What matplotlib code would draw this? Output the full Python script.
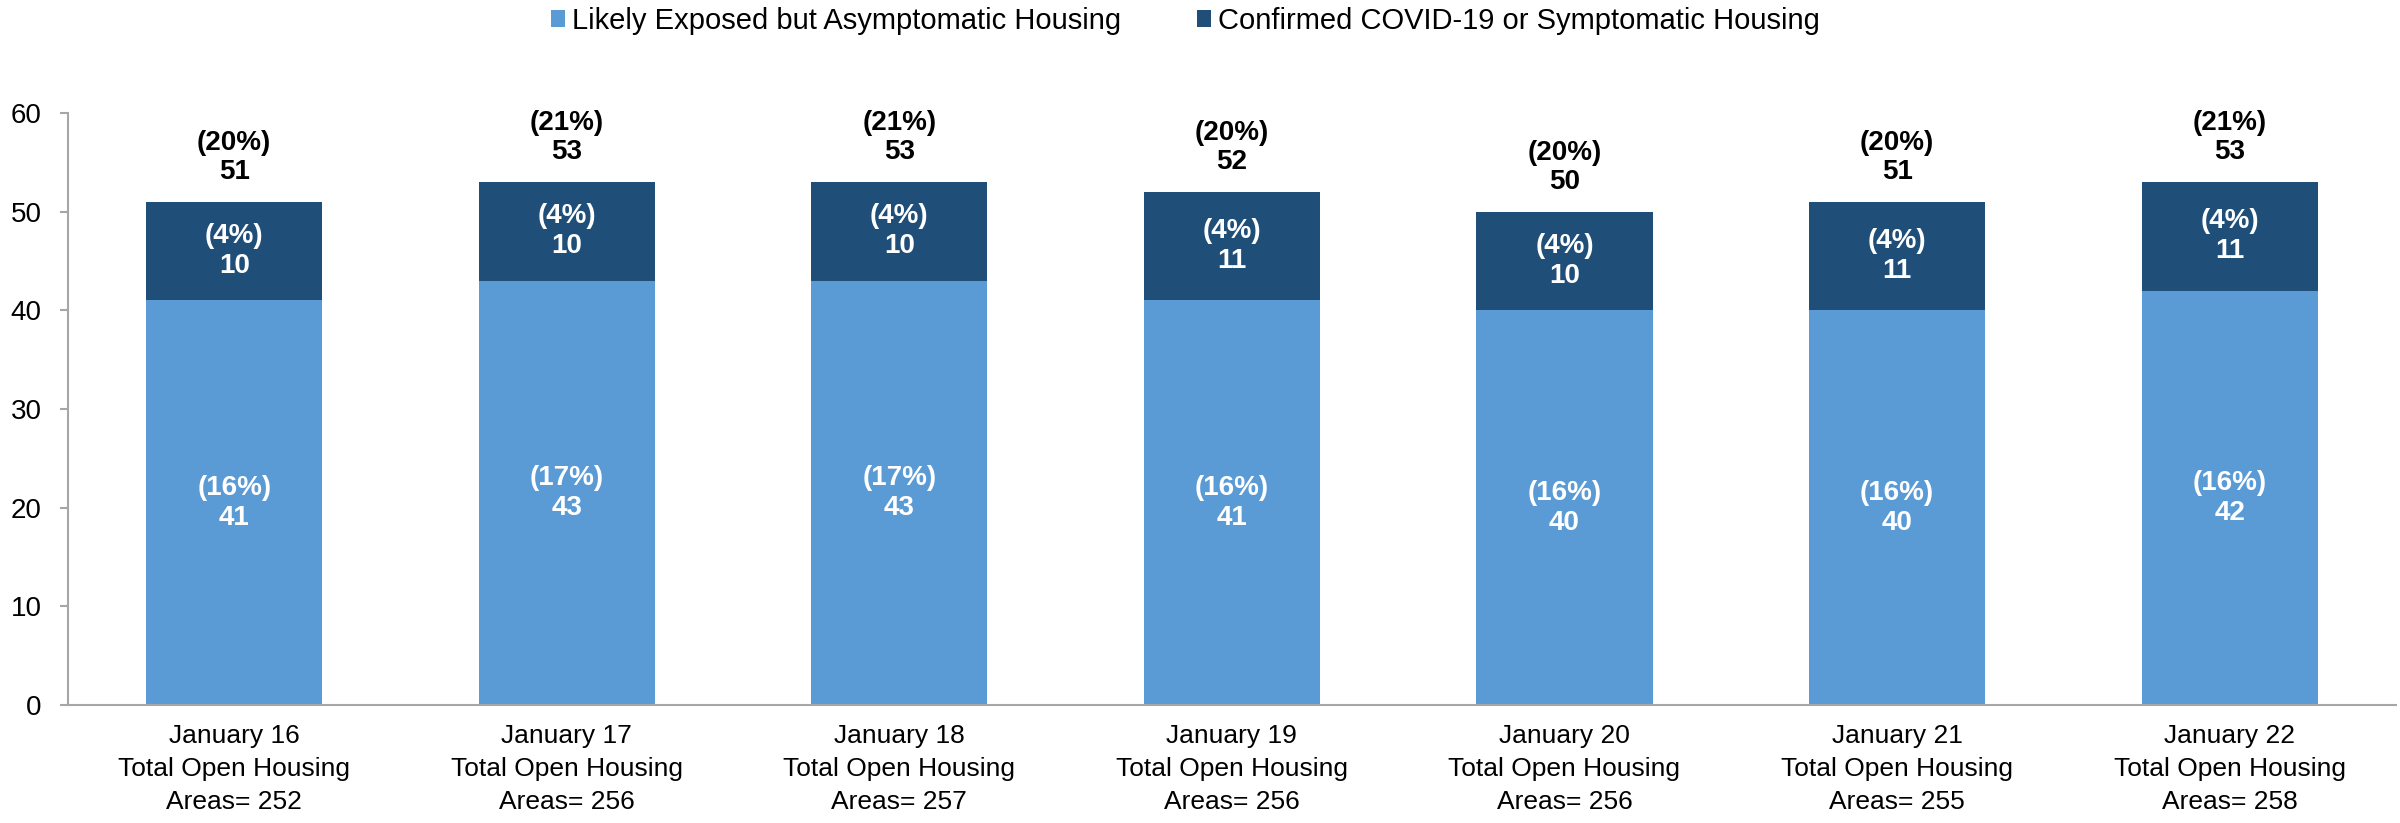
import matplotlib
matplotlib.use('Agg')
import matplotlib.pyplot as plt
from matplotlib.patches import Patch

plt.rcParams['font.family'] = ['Liberation Sans', 'DejaVu Sans']

LIGHT = '#5B9BD5'
DARK = '#1F4E79'
AXIS = '#A6A6A6'

dates = ['January 16', 'January 17', 'January 18', 'January 19',
         'January 20', 'January 21', 'January 22']
areas = [252, 256, 257, 256, 256, 255, 258]
exposed = [41, 43, 43, 41, 40, 40, 42]
exposed_pct = [16, 17, 17, 16, 16, 16, 16]
confirmed = [10, 10, 10, 11, 10, 11, 11]
confirmed_pct = [4, 4, 4, 4, 4, 4, 4]
totals = [51, 53, 53, 52, 50, 51, 53]
total_pct = [20, 21, 21, 20, 20, 20, 21]

labels = [f'{d}\nTotal Open Housing\nAreas= {a}' for d, a in zip(dates, areas)]
x = list(range(len(dates)))

fig = plt.figure(figsize=(24, 8.23), dpi=100)
ax = fig.add_axes([0.0283, 0.1434, 0.9700, 0.7193])

ax.bar(x, exposed, width=0.53, color=LIGHT, edgecolor='none')
ax.bar(x, confirmed, width=0.53, bottom=exposed, color=DARK, edgecolor='none')

for i in x:
    ax.text(i, exposed[i] / 2, f'({exposed_pct[i]}%)\n{exposed[i]}', ha='center', va='center',
            fontsize=20, fontweight='bold', color='white', linespacing=1.2)
    ax.text(i, exposed[i] + confirmed[i] / 2, f'({confirmed_pct[i]}%)\n{confirmed[i]}',
            ha='center', va='center', fontsize=20, fontweight='bold', color='white', linespacing=1.2)
    ax.text(i, totals[i] + 2.3, f'({total_pct[i]}%)\n{totals[i]}', ha='center', va='baseline',
            fontsize=20, fontweight='bold', color='black', linespacing=1.15)

ax.set_xlim(-0.5, len(dates) - 0.5)
ax.set_ylim(0, 60)
ax.set_yticks(range(0, 61, 10))
ax.set_xticks(x)
ax.set_xticklabels(labels, fontsize=19, linespacing=1.45)
ax.tick_params(axis='y', labelsize=20, color=AXIS, length=6, width=1.5, pad=13)
ax.tick_params(axis='x', length=0, pad=14)
for s in ['top', 'right']:
    ax.spines[s].set_visible(False)
for s in ['left', 'bottom']:
    ax.spines[s].set_color(AXIS)
    ax.spines[s].set_linewidth(1.5)

handles = [Patch(facecolor=LIGHT, edgecolor='none'), Patch(facecolor=DARK, edgecolor='none')]
fig.legend(handles, ['Likely Exposed but Asymptomatic Housing', 'Confirmed COVID-19 or Symptomatic Housing'],
           loc='center', bbox_to_anchor=(0.494, 0.975), ncol=2, frameon=False, fontsize=21,
           handlelength=0.48, handleheight=0.52, handletextpad=0.25, columnspacing=2.6,
           borderpad=0, borderaxespad=0)

plt.savefig('out.png', dpi=100)
plt.close()
